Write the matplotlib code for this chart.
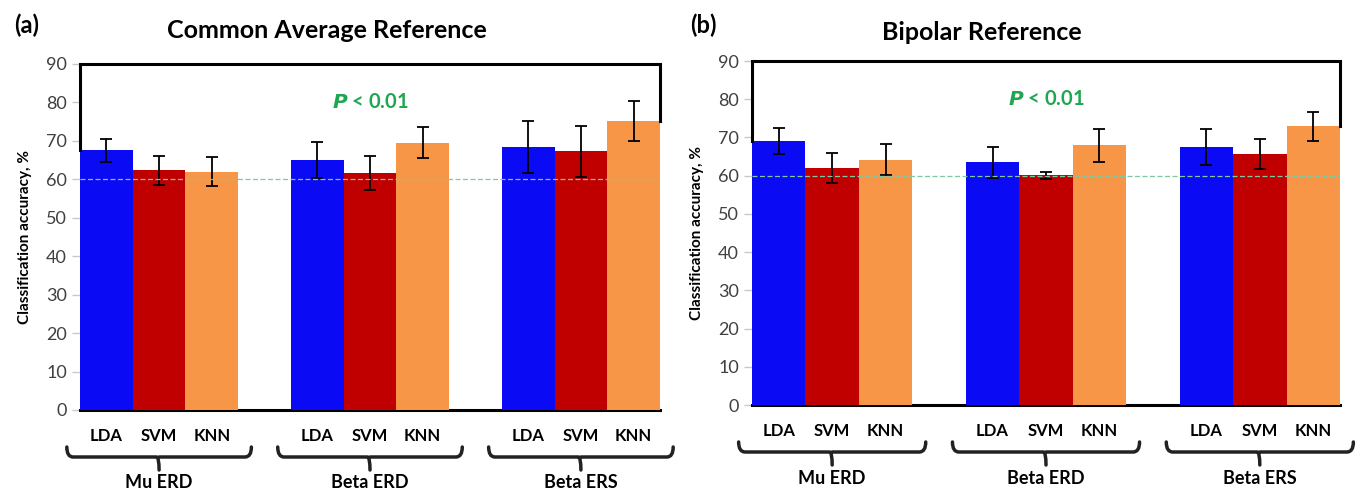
import matplotlib
matplotlib.use("Agg")
import matplotlib.pyplot as plt
import numpy as np
from matplotlib.path import Path
from matplotlib.patches import PathPatch
import matplotlib.transforms as mtransforms

plt.rcParams['font.family'] = ['Lato', 'DejaVu Sans']

groups = ["Mu ERD", "Beta ERD", "Beta ERS"]
classifiers = ["LDA", "SVM", "KNN"]
colors = ["#0a0af5", "#c00000", "#f79646"]

car_means = {"LDA": [67.6, 65.0, 68.4], "SVM": [62.3, 61.7, 67.3], "KNN": [62.0, 69.5, 75.2]}
car_errs = {"LDA": [3.0, 4.6, 6.7], "SVM": [3.7, 4.4, 6.6], "KNN": [3.7, 4.0, 5.1]}
bip_means = {"LDA": [69.1, 63.5, 67.6], "SVM": [62.0, 60.1, 65.7], "KNN": [64.2, 67.9, 72.9]}
bip_errs = {"LDA": [3.4, 4.0, 4.7], "SVM": [3.8, 0.9, 4.0], "KNN": [4.0, 4.2, 3.8]}

chance = 60
yticks = list(range(0, 91, 10))
ptext_color = "#1fa650"

fig = plt.figure(figsize=(13.58, 4.92), dpi=100)
axA = fig.add_axes([80/1358, 1-410/492, 580/1358, 346/492])
axB = fig.add_axes([752/1358, 1-405/492, 588/1358, 344/492])


def brace(ax, xc, half):
    tr = mtransforms.blended_transform_factory(ax.transData, ax.transAxes)
    fig_h = ax.get_position().height * 492
    def yf(px):
        return -px / fig_h
    y_top, y_line, y_stem = yf(37), yf(47), yf(60)
    r = 0.12
    x0, x1 = xc - half, xc + half
    verts = [(x0, y_top), (x0, y_line), (x0 + r, y_line),
             (xc - 0.05, y_line), (xc, y_line), (xc, y_stem),
             (xc, y_line), (xc + 0.05, y_line),
             (x1 - r, y_line), (x1, y_line), (x1, y_top)]
    codes = [Path.MOVETO, Path.CURVE3, Path.CURVE3,
             Path.LINETO, Path.CURVE3, Path.LINETO,
             Path.MOVETO, Path.LINETO,
             Path.LINETO, Path.CURVE3, Path.CURVE3]
    ax.add_patch(PathPatch(Path(verts, codes), transform=tr, fill=False,
                           lw=2.5, color="#222222", clip_on=False,
                           capstyle='round', joinstyle='round'))


def draw(ax, means, errs):
    centers = np.array([0, 4, 8])
    for i, c in enumerate(classifiers):
        xs = centers + (i - 1)
        ax.bar(xs, means[c], width=1.0, color=colors[i], zorder=3)
        ax.errorbar(xs, means[c], yerr=errs[c], fmt='none', ecolor='black',
                    elinewidth=1.3, capsize=4, capthick=1.3, zorder=4)
    ax.set_xlim(-1.5, 9.5)
    ax.set_ylim(0, 90)
    ax.set_yticks(yticks)
    ax.tick_params(axis='y', colors='#c8c8c8', labelcolor='#404040',
                   labelsize=13, length=6, width=1)
    ax.set_xticks([])
    for s in ['top', 'right', 'left']:
        ax.spines[s].set_visible(False)
    ax.spines['bottom'].set_color('black')
    ax.spines['bottom'].set_linewidth(2.2)
    ax.spines['bottom'].set_zorder(2)
    ax.axhline(chance, color='#7cc9a4', lw=0.9, ls=(0, (4, 2)), zorder=5)
    ax.plot([-1.5, -1.5, 9.5, 9.5],
            [means["LDA"][0], 90, 90, means["KNN"][2]],
            color='black', lw=2.2, clip_on=False, zorder=6,
            solid_joinstyle='miter')
    ax.text(4, 80, r"$\mathbfit{P}$ < 0.01", color=ptext_color,
            fontsize=14.5, fontweight='bold', ha='center', va='center')
    ax.set_ylabel("Classification accuracy, %", fontsize=11, fontweight='bold',
                  labelpad=10)
    tr = mtransforms.blended_transform_factory(ax.transData, ax.transAxes)
    fig_h = ax.get_position().height * 492
    for gi, g in enumerate(groups):
        for i, c in enumerate(classifiers):
            ax.text(centers[gi] + (i - 1), -26 / fig_h, c, transform=tr,
                    ha='center', va='center', fontsize=12, fontweight='bold')
        brace(ax, centers[gi], 1.75)
        ax.text(centers[gi], -73 / fig_h, g, transform=tr, ha='center',
                va='center', fontsize=13, fontweight='bold')
    return ax


draw(axA, car_means, car_errs)
draw(axB, bip_means, bip_errs)

fig.text(327/1358, 1-31/492, "Common Average Reference", ha='center', va='center',
         fontsize=18, fontweight='bold')
fig.text(982/1358, 1-32/492, "Bipolar Reference", ha='center', va='center',
         fontsize=18, fontweight='bold')
fig.text(14/1358, 1-25/492, "(a)", ha='left', va='center', fontsize=17, fontweight='bold')
fig.text(690/1358, 1-25/492, "(b)", ha='left', va='center', fontsize=17, fontweight='bold')

fig.savefig("out.png", dpi=100)
